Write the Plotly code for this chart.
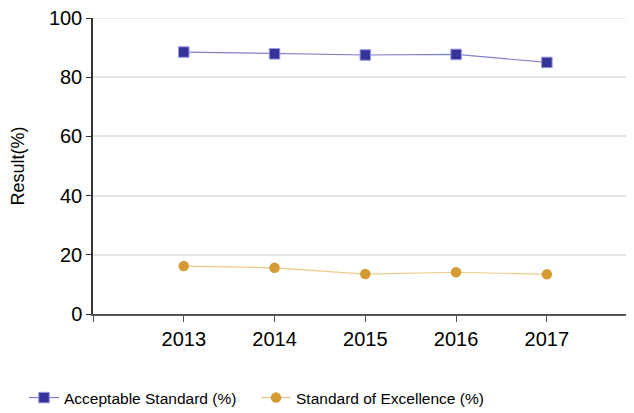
import plotly.graph_objects as go

years = [2013, 2014, 2015, 2016, 2017]
acceptable = [88.5, 87.9, 87.5, 87.7, 85.0]
excellence = [16.2, 15.6, 13.5, 14.1, 13.4]
tick_vals = [2012, 2013, 2014, 2015, 2016, 2017]
tick_text = ["", "2013", "2014", "2015", "2016", "2017"]

fig = go.Figure()
fig.add_trace(go.Scatter(
    x=years, y=acceptable, name="Acceptable Standard (%)",
    mode="lines+markers",
    line=dict(color="#8080cc", width=1.2),
    marker=dict(symbol="square", size=10.5, color="#333399",
                line=dict(color="#9999dd", width=1)),
))
fig.add_trace(go.Scatter(
    x=years, y=excellence, name="Standard of Excellence (%)",
    mode="lines+markers",
    line=dict(color="#eccb8a", width=1.2),
    marker=dict(symbol="circle", size=10.5, color="#d49b35"),
))

# plotly skips the gridline at the top edge, draw it by hand
fig.add_hline(y=100, line=dict(color="#e4e4e4", width=1.5), layer="below")

# page body has an 8px margin, so the figure is a bit smaller than the window
fig.update_layout(
    width=626, height=405,
    margin=dict(l=85, r=0, t=10, b=99, autoexpand=False),
    paper_bgcolor="white", plot_bgcolor="white",
    font=dict(family="Liberation Sans, Arial", size=16, color="#000000"),
    showlegend=True,
    legend=dict(orientation="h", xref="container", yref="container",
                x=0.0256, y=0.037, xanchor="left", yanchor="middle",
                font=dict(size=15.5), tracegroupgap=0,
                entrywidth=187, entrywidthmode="pixels"),
)
fig.update_xaxes(
    range=[2012, 2017.96], tickvals=tick_vals, ticktext=tick_text,
    showgrid=False, showline=True, linecolor="#555555", linewidth=2,
    ticks="outside", ticklen=6, tickcolor="#555555", tickwidth=1,
    tickfont=dict(size=20), zeroline=False,
)
fig.update_yaxes(
    range=[0, 100], dtick=20,
    title=dict(text="Result(%)", font=dict(size=18), standoff=32),
    showgrid=True, gridcolor="#e4e4e4", gridwidth=1.5,
    showline=True, linecolor="#333333", linewidth=1.5,
    ticks="outside", ticklen=5, tickcolor="#333333",
    tickfont=dict(size=20), zeroline=False, ticklabeloverflow="allow",
)

fig.write_html("out.html")
